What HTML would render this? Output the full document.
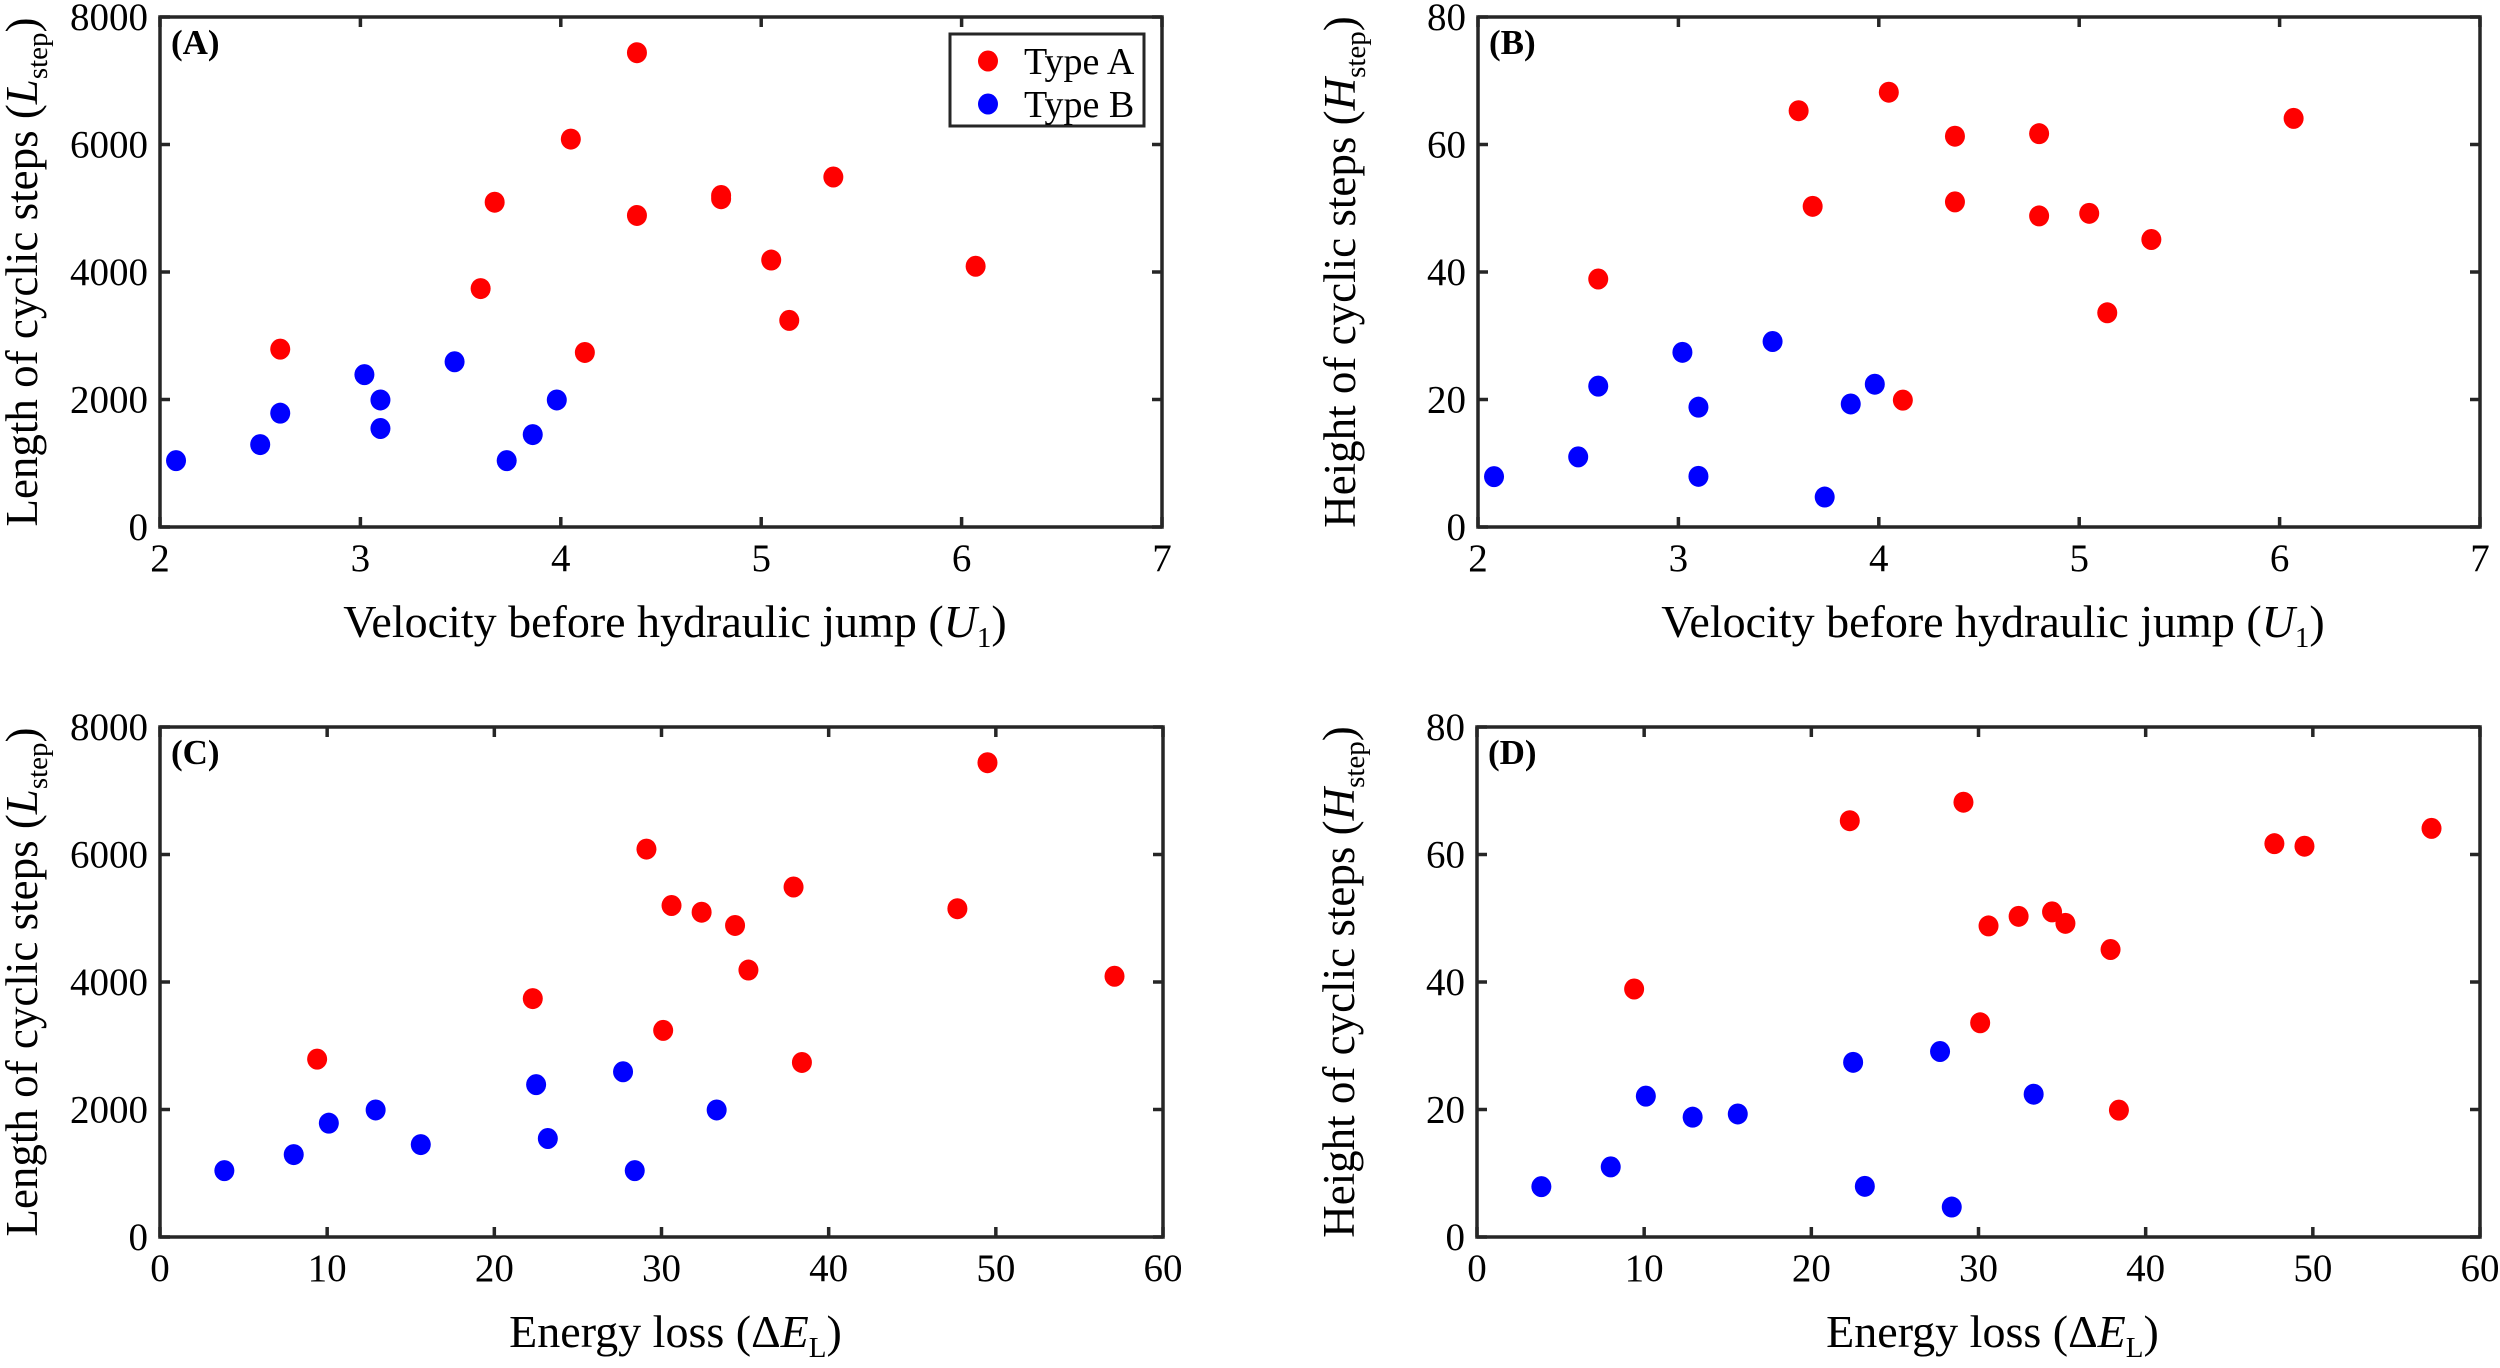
<!DOCTYPE html>
<html><head><meta charset="utf-8"><style>
html,body{margin:0;padding:0;background:#fff}
svg, svg text, svg tspan{font-family:"Liberation Serif","Times New Roman","DejaVu Serif",serif}
</style></head><body>
<svg id="fig" xmlns="http://www.w3.org/2000/svg" width="2500" height="1363" viewBox="0 0 2500 1363" font-family="Liberation Serif, Times New Roman, serif"></svg>
<script>
// Type A data
const aU = [2.60, 3.60, 3.67, 4.05, 4.12, 4.38, 4.38, 4.80, 4.80, 5.05, 5.14, 5.36, 6.07];
const aE = [9.4, 22.3, 32.4, 29.1, 38.4, 49.5, 34.4, 47.7, 30.6, 35.2, 30.1, 37.9, 57.1];
const aL = [2790, 3740, 5095, 6085, 2738, 7440, 4887, 5150, 5200, 4188, 3241, 5490, 4090];
const aH = [38.9, 65.3, 50.3, 68.2, 19.9, 61.3, 51.0, 61.7, 48.8, 49.2, 33.6, 45.1, 64.1];
// Type B data
const bU = [2.08, 2.50, 2.60, 3.02, 3.10, 3.10, 3.47, 3.73, 3.86, 3.98];
const bE = [3.85, 8.0, 10.1, 22.5, 12.9, 23.2, 27.7, 28.4, 15.6, 33.3];
const bL = [1041, 1293, 1786, 2390, 1993, 1545, 2592, 1041, 1450, 1993];
const bH = [7.9, 11.0, 22.1, 27.4, 18.8, 7.95, 29.1, 4.7, 19.3, 22.4];
// tick labels
const uTicks = [2, 3, 4, 5, 6, 7];
const eTicks = [0, 10, 20, 30, 40, 50, 60];
const lTicks = [0, 2000, 4000, 6000, 8000];
const hTicks = [0, 20, 40, 60, 80];

const NS = "http://www.w3.org/2000/svg";
const FONT = '"Liberation Serif", "Times New Roman", serif';
const svg = document.getElementById('fig');
function mk(tag, attrs, parent) {
  const e = document.createElementNS(NS, tag);
  for (const k in attrs) e.setAttribute(k, attrs[k]);
  if (tag === 'text') e.style.fontFamily = FONT;
  (parent || svg).appendChild(e);
  return e;
}
const panels = [
  {id:'a', x0:160, x1:1162, y0:17, y1:527, xs:uTicks, ys:lTicks, xa:aU, ya:aL, xb:bU, yb:bL, lab:'(A)', xt:'U', yt:'L', legend:true},
  {id:'b', x0:1478, x1:2480, y0:17, y1:527, xs:uTicks, ys:hTicks, xa:aU, ya:aH, xb:bU, yb:bH, lab:'(B)', xt:'U', yt:'H'},
  {id:'c', x0:160, x1:1163, y0:727, y1:1237, xs:eTicks, ys:lTicks, xa:aE, ya:aL, xb:bE, yb:bL, lab:'(C)', xt:'E', yt:'L'},
  {id:'d', x0:1477, x1:2480, y0:727, y1:1237, xs:eTicks, ys:hTicks, xa:aE, ya:aH, xb:bE, yb:bH, lab:'(D)', xt:'E', yt:'H'}
];
panels.forEach(p => {
  const g = mk('g', {});
  
  
  const xmin = p.xs[0], xmax = p.xs[p.xs.length-1];
  const ymin = p.ys[0], ymax = p.ys[p.ys.length-1];
  const sx = v => p.x0 + (v - xmin) / (xmax - xmin) * (p.x1 - p.x0);
  const sy = v => p.y1 - (v - ymin) / (ymax - ymin) * (p.y1 - p.y0);
  const drawPts = (xs, ys, col, nm) => {
    xs.forEach((v, i) => {
      const c = mk('ellipse', {cx: sx(v), cy: sy(ys[i]), rx: 10, ry: 10.5, fill: col}, g);
      
      
    });
  };
  drawPts(p.xb, p.yb, '#0000ff', 'type-b');
  drawPts(p.xa, p.ya, '#ff0000', 'type-a');
  const fr = mk('rect', {x:p.x0, y:p.y0, width:p.x1-p.x0, height:p.y1-p.y0, fill:'none', stroke:'#262626', 'stroke-width':3.5}, g);
  
  
  p.xs.forEach(v => {
    const x = sx(v);
    mk('line', {x1:x, x2:x, y1:p.y1, y2:p.y1-10, stroke:'#262626', 'stroke-width':3.5}, g);
    mk('line', {x1:x, x2:x, y1:p.y0, y2:p.y0+10, stroke:'#262626', 'stroke-width':3.5}, g);
    const t = mk('text', {x:x, y:p.y1+44, 'font-size':39, 'text-anchor':'middle', fill:'#000'}, g);
    t.textContent = v;
    
    
  });
  p.ys.forEach(v => {
    const y = sy(v);
    mk('line', {x1:p.x0, x2:p.x0+10, y1:y, y2:y, stroke:'#262626', 'stroke-width':3.5}, g);
    mk('line', {x1:p.x1, x2:p.x1-10, y1:y, y2:y, stroke:'#262626', 'stroke-width':3.5}, g);
    const t = mk('text', {x:p.x0-12, y:y+13, 'font-size':39, 'text-anchor':'end', fill:'#000'}, g);
    t.textContent = v;
    
    
  });
  const pl = mk('text', {x:p.x0+11, y:p.y0+37, 'font-size':35, 'font-weight':'bold', fill:'#000'}, g);
  pl.textContent = p.lab;
  
  
  const cx = (p.x0 + p.x1) / 2 + 14;
  const xt = mk('text', {x:cx, y:p.y1+110, 'font-size':46, 'text-anchor':'middle', fill:'#000'}, g);
  
  
  if (p.xt === 'U') {
    xt.innerHTML = 'Velocity before hydraulic jump (<tspan font-style="italic">U</tspan><tspan font-size="29" dy="10">1</tspan><tspan dy="-10">)</tspan>';
  } else {
    xt.innerHTML = 'Energy loss (Δ<tspan font-style="italic">E</tspan><tspan font-size="29" dy="10">L</tspan><tspan dy="-10">)</tspan>';
  }
  const cy = (p.y0 + p.y1) / 2;
  const ytx = p.x0 - 123;
  const yt = mk('text', {x:0, y:0, 'font-size':45, 'text-anchor':'middle', fill:'#000', transform:`translate(${ytx},${cy}) rotate(-90)`}, g);
  
  
  const word = p.yt === 'L' ? 'Length' : 'Height';
  yt.innerHTML = word + ' of cyclic steps (<tspan font-style="italic">' + p.yt + '</tspan><tspan font-size="29" dy="10">step</tspan><tspan dy="-10">)</tspan>';
  if (p.legend) {
    const lg = mk('g', {}, g);
    
    
    mk('rect', {x:950, y:34, width:194, height:92, fill:'#fff', stroke:'#262626', 'stroke-width':3}, lg);
    const e1 = mk('ellipse', {cx:988, cy:61, rx:10, ry:10.5, fill:'#ff0000'}, lg);
    
    
    const t1 = mk('text', {x:1024, y:74, 'font-size':38, fill:'#000'}, lg);
    t1.textContent = 'Type A';
    
    
    const e2 = mk('ellipse', {cx:988, cy:104, rx:10, ry:10.5, fill:'#0000ff'}, lg);
    
    
    const t2 = mk('text', {x:1024, y:117, 'font-size':38, fill:'#000'}, lg);
    t2.textContent = 'Type B';
    
    
  }
});
</script>
</body></html>
